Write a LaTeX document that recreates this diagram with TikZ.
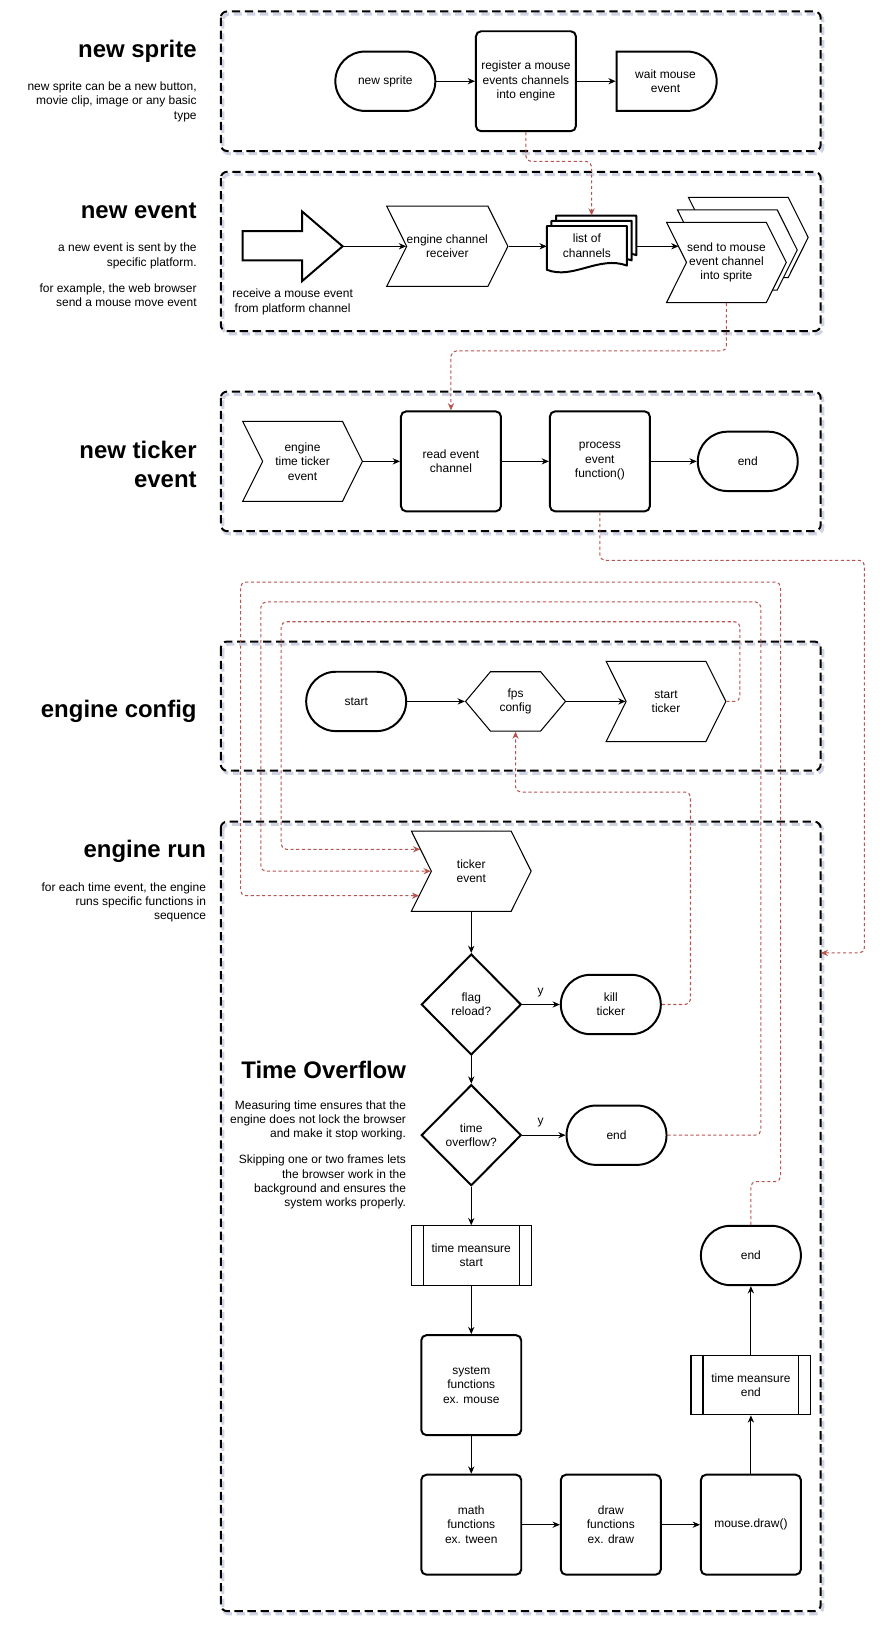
\documentclass[tikz,border=0pt]{standalone}
\usepackage{fontspec}
\setmainfont{Liberation Sans}
\usetikzlibrary{shapes.geometric,shapes.misc,shapes.symbols,arrows.meta}

\definecolor{linkred}{RGB}{184,84,80}
\definecolor{frameshade}{RGB}{208,211,228}

\tikzset{
  every node/.style={font=\fontsize{11.5}{13.8}\selectfont, align=center},
  term/.style={rounded rectangle, draw, line width=1.9pt, minimum width=96pt, minimum height=57pt, inner sep=0pt},
  waitbox/.style={term, rounded rectangle west arc=none},
  procbox/.style={rectangle, rounded corners=5pt, draw, line width=1.9pt, minimum width=96pt, minimum height=96pt, inner sep=0pt},
  stepbox/.style={signal, signal from=west, signal to=east, signal pointer angle=127, draw, line width=1pt, fill=white, minimum width=115pt, minimum height=77pt, inner sep=0pt},
  hexbox/.style={signal, signal to=west and east, signal pointer angle=100, draw, line width=1pt, minimum width=96pt, minimum height=57pt, inner sep=0pt},
  decide/.style={diamond, aspect=1, draw, line width=1.9pt, minimum width=96pt, minimum height=97pt, inner sep=0pt},
  predef/.style={rectangle, draw, line width=1pt, minimum width=115pt, minimum height=57pt, inner sep=0pt,
    path picture={
      \draw[line width=1pt] ([xshift=11.5pt]path picture bounding box.north west) -- ([xshift=11.5pt]path picture bounding box.south west);
      \draw[line width=1pt] ([xshift=-11.5pt]path picture bounding box.north east) -- ([xshift=-11.5pt]path picture bounding box.south east);
    }},
  flow/.style={line width=1pt, -{Stealth[length=7pt,width=6pt]}},
  link/.style={linkred, line width=1pt, dash pattern=on 3pt off 2.5pt, rounded corners=5pt, -{Stealth[length=7pt,width=6pt]}},
  frame/.style={line width=1.9pt, dash pattern=on 8pt off 4.5pt, rounded corners=6pt},
  title/.style={anchor=east, align=right, inner sep=0pt, font=\fontsize{23}{28}\selectfont\bfseries},
  note/.style={anchor=east, align=right, inner sep=0pt}
}

\begin{document}
\begin{tikzpicture}[x=1pt, y=-1pt]
  \useasboundingbox (0,0) rectangle (854.5,1568);

  % dashed group frames with their shadow
  \foreach \ya/\yb in {11/145,165/318,376/510,616/740,789/1547} {
    \draw[frame, frameshade, line width=3pt] (214,\ya+2.5) rectangle (790,\yb+2.5);
    \draw[frame] (212,\ya) rectangle (788,\yb);
  }

  % side titles
  \node[title] (sprttl) at (189,49) {new sprite};
  \node[note] (sprnote) at (189,97.5) {new sprite can be a new button,\\ movie clip, image or any basic\\ type};
  \node[title] (evttl) at (189,202) {new event};
  \node[note] (evnote) at (189,264) {a new event is sent by the\\ specific platform.\\[11pt] for example, the web browser\\ send a mouse move event};
  \node[title] (tkttl) at (189,446) {new ticker\\ event};
  \node[title] (cfgttl) at (189,683) {engine config};
  \node[title] (runttl) at (198,817) {engine run};
  \node[note] (runnote) at (198,866.5) {for each time event, the engine\\ runs specific functions in\\ sequence};
  \node[title] (ovttl) at (390,1027) {Time Overflow};
  \node[note] (ovnote) at (390,1109) {Measuring time ensures that the\\ engine does not lock the browser\\ and make it stop working.\\[11pt] Skipping one or two frames lets\\ the browser work in the\\ background and ensures the\\ system works properly.};

  % new sprite
  \node[term] (newspr) at (370,78) {new sprite};
  \node[procbox] (regch) at (505,78) {register a mouse\\ events channels\\ into engine};
  \node[waitbox] (waitev) at (639,78) {wait mouse\\ event};
  \draw[flow] (newspr.east) -- (regch.west);
  \draw[flow] (regch.east) -- (waitev.west);

  % new event
  \draw[line width=1.9pt, fill=white] (233,222) -- (290,222) -- (290,203) -- (329,236.5) -- (290,270) -- (290,250) -- (233,250) -- cycle; % big arrow
  \coordinate (recv) at (329,236.5);
  \node (recvlbl) at (281,290) {receive a mouse event\\ from platform channel};
  \node[stepbox] (chrecv) at (429.5,236.5) {engine channel\\ receiver};
  \foreach \k in {2,1,0} {
    \draw[line width=1.9pt, fill=white, line join=round]
      ({525+4.5*\k},{217-5*\k}) -- ({602+4.5*\k},{217-5*\k}) -- ({602+4.5*\k},{255-5*\k})
      .. controls ({575+4.5*\k},{245-5*\k}) and ({550+4.5*\k},{269-5*\k}) .. ({525+4.5*\k},{259-5*\k}) -- cycle;
  }
  \node (listch) at (563.5,236) {list of\\ channels};
  \coordinate (listin) at (525,236.5);
  \coordinate (listout) at (611,236.5);
  \coordinate (listtop) at (568,207);
  \foreach \k in {2,1} \node[stepbox] (send\k) at ({697.5+10.5*\k},{252-12*\k}) {};
  \node[stepbox] (send) at (697.5,252) {send to mouse\\ event channel\\ into sprite};
  \coordinate (sendin) at (651.5,236.5);
  \draw[flow] (recv) -- (chrecv.west);
  \draw[flow] (chrecv.east) -- (listin);
  \draw[flow] (listout) -- (sendin);
  \draw[link] (regch.south) |- (568,155) -- (listtop);

  % new ticker event
  \node[stepbox] (tickev) at (290.5,443) {engine\\ time ticker\\ event};
  \node[procbox] (readev) at (433,443) {read event\\ channel};
  \node[procbox] (pfun) at (576,443) {process\\ event\\ function()};
  \node[term] (endA) at (718,443) {end};
  \draw[flow] (tickev.east) -- (readev.west);
  \draw[flow] (readev.east) -- (pfun.west);
  \draw[flow] (pfun.east) -- (endA.west);
  \draw[link] (send.south) |- (433,337) -- (readev.north);

  % engine config
  \node[term] (start) at (342,673.5) {start};
  \node[hexbox] (fps) at (495,673.5) {fps\\ config};
  \node[stepbox] (stick) at (639.5,673.5) {start\\ ticker};
  \draw[flow] (start.east) -- (fps.west);
  \draw[flow] (fps.east) -- (stick.west);

  % engine run
  \node[stepbox] (tick) at (452.5,836.5) {ticker\\ event};
  \node[decide] (flag) at (452.5,964.5) {flag\\ reload?};
  \node[term] (kill) at (586.5,964.5) {kill\\ ticker};
  \node[decide] (tover) at (452.5,1090) {time\\ overflow?};
  \node[term] (end2) at (592,1090) {end};
  \node[predef] (tms) at (452.5,1205.5) {time meansure\\ start};
  \node[procbox] (sysf) at (452.5,1330) {system\\ functions\\ ex. mouse};
  \node[procbox] (mathf) at (452.5,1464) {math\\ functions\\ ex. tween};
  \node[procbox] (drawf) at (586.5,1464) {draw\\ functions\\ ex. draw};
  \node[procbox] (mdraw) at (721,1464) {mouse.draw()};
  \node[predef] (tme) at (721,1330) {time meansure\\ end};
  \node[term] (endb) at (721,1205.5) {end};
  \node (yflag) at (519,953) {y};
  \node (yover) at (519,1078) {y};
  \draw[flow] (tick.south) -- (flag.north);
  \draw[flow] (flag.east) -- (kill.west);
  \draw[flow] (flag.south) -- (tover.north);
  \draw[flow] (tover.east) -- (end2.west);
  \draw[flow] (tover.south) -- (tms.north);
  \draw[flow] (tms.south) -- (sysf.north);
  \draw[flow] (sysf.south) -- (mathf.north);
  \draw[flow] (mathf.east) -- (drawf.west);
  \draw[flow] (drawf.east) -- (mdraw.west);
  \draw[flow] (mdraw.north) -- (tme.south);
  \draw[flow] (tme.north) -- (endb.south);

  % red loops back to the ticker
  \coordinate (tickA) at (403.5,815.5);
  \coordinate (tickC) at (402.5,860);
  \coordinate (runin) at (788,915);
  \draw[link] (stick.east) -| (710.5,597) -| (270,815.5) -- (tickA);
  \draw[link] (end2.east) -| (730.5,578) -| (250.5,836.5) -- (tick.west);
  \draw[link] (endb.north) |- (749.5,1134.5) |- (231,559) |- (tickC);
  \draw[link] (kill.east) -| (663,760.5) -| (fps.south);
  \draw[link] (pfun.south) |- (830,538) |- (runin);
\end{tikzpicture}
\end{document}
